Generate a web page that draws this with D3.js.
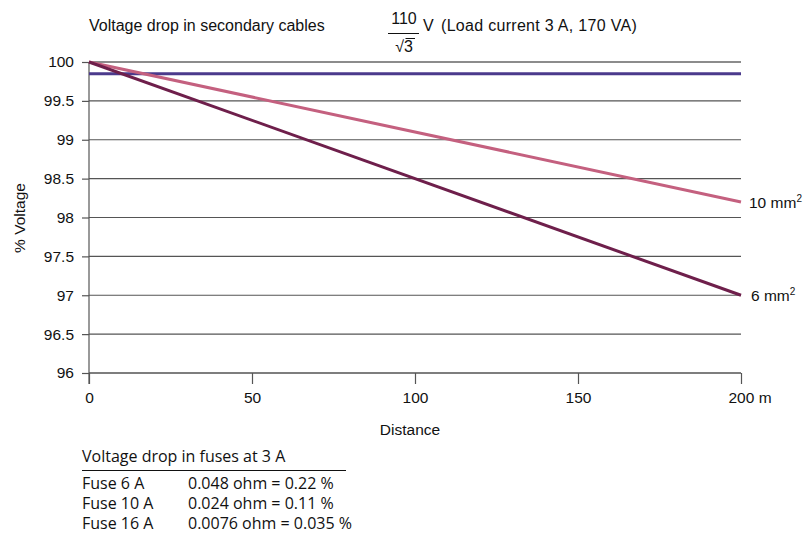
<!DOCTYPE html>
<html><head><meta charset="utf-8">
<script src="https://cdn.jsdelivr.net/npm/d3@7"></script>
<style>body{margin:0;background:#fff}svg{display:block}text{font-family:"Liberation Sans",Arial,sans-serif;fill:#111}</style>
</head><body>
<svg id="c" width="811" height="538"></svg>
<script>
const distances = [0, 200];
const cable10 = [100, 98.2];
const cable6 = [100, 97.0];
const fuseLevel = [99.85, 99.85];
const yTicks = [96, 96.5, 97, 97.5, 98, 98.5, 99, 99.5, 100];
const xTicks = [0, 50, 100, 150, 200];
const fuseNames = ["Fuse 6 A", "Fuse 10 A", "Fuse 16 A"];
const fuseValues = ["0.048 ohm = 0.22 %", "0.024 ohm = 0.11 %", "0.0076 ohm = 0.035 %"];

const svg = d3.select("#c");
const x = d3.scaleLinear().domain([0, 200]).range([89, 741]);
const y = d3.scaleLinear().domain([96, 100]).range([373, 62]);

// gridlines
svg.append("g").selectAll("line").data(yTicks).join("line")
  .attr("x1", x(0)).attr("x2", x(200))
  .attr("y1", d => y(d)).attr("y2", d => y(d))
  .attr("stroke", d => d === 100 ? "#1a1a1a" : "#555").attr("stroke-width", 1.2);

// y axis
const ya = svg.append("g").attr("transform", `translate(${x(0)},0)`)
  .call(d3.axisLeft(y).tickValues(yTicks).tickSize(7).tickPadding(8).tickFormat(d => d3.format("")(d)));
ya.select(".domain").remove();
ya.selectAll(".tick line").attr("stroke", "#555").attr("stroke-width", 1.2);
ya.selectAll(".tick text").style("font-size", "15.5px").attr("fill", "#111");
svg.append("line").attr("x1", x(0)).attr("x2", x(0)).attr("y1", y(100)).attr("y2", y(96) + 11)
  .attr("stroke", "#555").attr("stroke-width", 1.2);

// x axis
const xa = svg.append("g").attr("transform", `translate(0,${y(96)})`)
  .call(d3.axisBottom(x).tickValues(xTicks).tickSize(11).tickPadding(8).tickFormat(d => d === 200 ? "200 m" : d));
xa.select(".domain").attr("stroke", "#555").attr("stroke-width", 1.2).attr("d", `M${x(0)},0H${x(200)}`);
xa.selectAll(".tick line").attr("stroke", "#555").attr("stroke-width", 1.2);
xa.selectAll(".tick text").style("font-size", "15.5px").attr("fill", "#111")
  .attr("text-anchor", d => d === 200 ? "start" : "middle").attr("dx", d => d === 200 ? "-13" : 0);

// lines
const line = d3.line().x((d, i) => x(distances[i])).y(d => y(d));
svg.append("path").datum(fuseLevel).attr("d", line).attr("fill", "none").attr("stroke", "#4b3a8c").attr("stroke-width", 3);
svg.append("path").datum(cable10).attr("d", line).attr("fill", "none").attr("stroke", "#c4607f").attr("stroke-width", 3);
svg.append("path").datum(cable6).attr("d", line).attr("fill", "none").attr("stroke", "#6e1f4b").attr("stroke-width", 3);

// line labels
function mm(t, yv, dx) {
  const tx = svg.append("text").attr("x", x(200) + dx).attr("y", y(yv) + 6).style("font-size", "15.5px");
  tx.append("tspan").text(t + " mm");
  tx.append("tspan").text("2").attr("dy", -6).style("font-size", "10px");
}
mm("10", cable10[1], 8);
mm("6", cable6[1], 10);

// axis titles
svg.append("text").attr("x", 410).attr("y", 435).attr("text-anchor", "middle").style("font-size", "15.5px").text("Distance");
svg.append("text").attr("transform", "translate(25,218) rotate(-90)").attr("text-anchor", "middle").style("font-size", "15.5px").text("% Voltage");

// title
const ts = "16px";
svg.append("text").attr("x", 89).attr("y", 31).style("font-size", ts).text("Voltage drop in secondary cables");
svg.append("text").attr("x", 404).attr("y", 24).attr("text-anchor", "middle").style("font-size", ts).text("110");
svg.append("line").attr("x1", 388).attr("x2", 419).attr("y1", 33.5).attr("y2", 33.5).attr("stroke", "#111").attr("stroke-width", 1);
svg.append("text").attr("x", 404).attr("y", 52).attr("text-anchor", "middle").style("font-size", ts).text("\u221A3");
svg.append("line").attr("x1", 405.5).attr("x2", 415).attr("y1", 38.5).attr("y2", 38.5).attr("stroke", "#111").attr("stroke-width", 1);
svg.append("text").attr("x", 423).attr("y", 31).style("font-size", ts).text("V");
svg.append("text").attr("x", 441).attr("y", 31).style("font-size", ts).style("letter-spacing", "0.3px").text("(Load current 3 A, 170 VA)");

// fuse table
const tf = "'Open Sans','Noto Sans',sans-serif";
svg.append("text").attr("x", 82).attr("y", 462).style("font-size", "16px").style("font-family", tf).text("Voltage drop in fuses at 3 A");
svg.append("line").attr("x1", 82).attr("x2", 346).attr("y1", 470.5).attr("y2", 470.5).attr("stroke", "#111").attr("stroke-width", 1);
svg.append("g").selectAll("text").data(fuseNames).join("text")
  .attr("x", 82).attr("y", (d, i) => 489 + i * 20).style("font-size", "16px").style("font-family", tf).text(d => d);
svg.append("g").selectAll("text").data(fuseValues).join("text")
  .attr("x", 188).attr("y", (d, i) => 489 + i * 20).style("font-size", "16px").style("font-family", tf).text(d => d);
</script>
</body></html>
